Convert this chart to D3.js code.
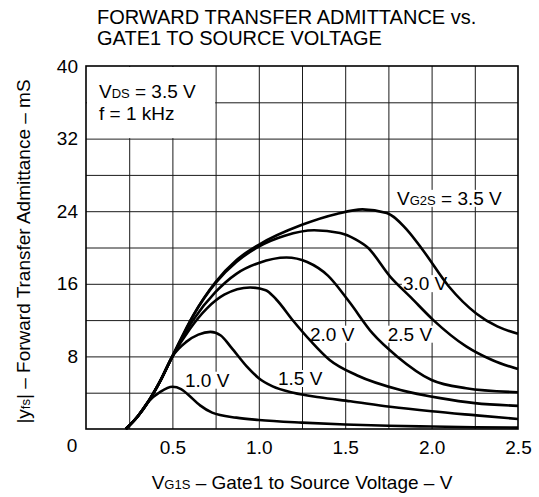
<!DOCTYPE html>
<html>
<head>
<meta charset="utf-8">
<script src="https://cdn.jsdelivr.net/npm/d3@7"></script>
<style>
  body { margin: 0; background: #fff; }
  text { font-family: "Liberation Sans", Arial, sans-serif; fill: #000; }
</style>
</head>
<body>
<div id="chart"></div>
<script>
// ---------------------------DATA---------------------------------
// VG1S (V) vs |yfs| (mS), one list per VG2S value
const vg2s35 = [[0.23,0],[0.3,1.4],[0.36,3.0],[0.43,5.3],[0.5,8.0],[0.62,12.5],[0.75,16.2],[0.87,18.6],[1.0,20.3],[1.25,22.5],[1.45,23.7],[1.6,24.2],[1.74,23.8],[1.86,21.9],[1.95,19.7],[2.1,15.7],[2.26,12.7],[2.38,11.3],[2.5,10.5]];
const vg2s30 = [[0.23,0],[0.3,1.4],[0.36,3.0],[0.43,5.3],[0.5,8.0],[0.62,12.5],[0.75,16.1],[0.87,18.4],[1.0,20.1],[1.15,21.3],[1.32,21.9],[1.47,21.6],[1.56,20.9],[1.63,20.0],[1.76,16.8],[1.88,14.5],[2.01,12.0],[2.2,9.1],[2.35,7.6],[2.5,6.6]];
const vg2s25 = [[0.23,0],[0.3,1.4],[0.36,3.0],[0.43,5.3],[0.5,8.0],[0.62,12.0],[0.75,15.1],[0.87,17.1],[1.0,18.3],[1.16,18.9],[1.28,18.4],[1.4,16.9],[1.52,14.1],[1.66,10.5],[1.8,8.0],[2.0,5.4],[2.2,4.5],[2.5,4.05]];
const vg2s20 = [[0.23,0],[0.3,1.4],[0.36,3.0],[0.43,5.3],[0.5,8.0],[0.6,11.0],[0.7,13.3],[0.8,14.8],[0.95,15.6],[1.04,15.3],[1.1,14.3],[1.2,11.9],[1.3,9.7],[1.41,7.6],[1.57,5.9],[1.82,4.3],[2.05,3.4],[2.25,2.85],[2.5,2.55]];
const vg2s15 = [[0.23,0],[0.3,1.4],[0.36,3.0],[0.43,5.3],[0.5,8.0],[0.58,9.6],[0.65,10.4],[0.72,10.7],[0.78,10.3],[0.84,9.0],[0.93,6.9],[1.0,5.6],[1.08,4.7],[1.2,4.0],[1.35,3.5],[1.53,3.05],[1.76,2.45],[2.0,1.95],[2.26,1.5],[2.5,1.1]];
const vg2s10 = [[0.23,0],[0.3,1.4],[0.36,3.0],[0.43,4.1],[0.5,4.65],[0.55,4.4],[0.59,3.8],[0.66,2.6],[0.73,1.8],[0.87,1.25],[1.0,0.99],[1.25,0.7],[1.5,0.5],[1.75,0.35],[2.0,0.27],[2.25,0.2],[2.5,0.15]];
const series = [vg2s35, vg2s30, vg2s25, vg2s20, vg2s15, vg2s10];

const xTicks = [0.5, 1.0, 1.5, 2.0, 2.5];
const yTicks = [8, 16, 24, 32, 40];
const xGrid = [0.25, 0.5, 0.75, 1.0, 1.25, 1.5, 1.75, 2.0, 2.25];
const yGrid = [4, 8, 12, 16, 20, 24, 28, 32, 36];

// curve labels, anchored in data units: [VG1S, |yfs|, main, sub, rest]
const curveLabels = [
    [1.80, 24.7, "V", "G2S", " = 3.5 V"],
    [1.834, 15.3, "3.0 V", "", ""],
    [1.296, 9.73, "2.0 V", "", ""],
    [1.746, 9.73, "2.5 V", "", ""],
    [1.111, 4.85, "1.5 V", "", ""],
    [0.573, 4.66, "1.0 V", "", ""]
];

// ---------------------------SPACE SETUP---------------------------------
const W = 539, H = 497;
const margin = { top: 66, right: 21, bottom: 68, left: 86 };
const width = W - margin.left - margin.right;
const height = H - margin.top - margin.bottom;

const x = d3.scaleLinear().domain([0, 2.5]).range([0, width]);
const y = d3.scaleLinear().domain([0, 40]).range([height, 0]);

const svg = d3.select("#chart").append("svg")
    .attr("width", W)
    .attr("height", H);

const g = svg.append("g")
    .attr("transform", `translate(${margin.left}, ${margin.top})`);

// ---------------------------GRID---------------------------------
g.append("g")
    .attr("transform", `translate(0, ${height})`)
    .call(d3.axisBottom(x).tickValues(xGrid).tickSize(-height).tickFormat(""))
    .call(a => a.select(".domain").remove())
    .selectAll("line").attr("stroke", "#1a1a1a").attr("stroke-width", 1);

g.append("g")
    .call(d3.axisLeft(y).tickValues(yGrid).tickSize(-width).tickFormat(""))
    .call(a => a.select(".domain").remove())
    .selectAll("line").attr("stroke", "#1a1a1a").attr("stroke-width", 1);

// condition box (covers grid in the top-left corner)
g.append("rect")
    .attr("x", x(0) + 1)
    .attr("y", y(40) + 1)
    .attr("width", x(0.75) - x(0) - 1.5)
    .attr("height", y(32) - y(40) - 1.5)
    .attr("fill", "#fff");

const cond = g.append("g").style("font-size", "19px");
cond.append("text")
    .attr("x", x(0.075)).attr("y", y(36.5))
    .call(t => {
        t.append("tspan").text("V");
        t.append("tspan").style("font-size", "13px").text("DS");
        t.append("tspan").text(" = 3.5 V");
    });
cond.append("text")
    .attr("x", x(0.075)).attr("y", y(34.05))
    .text("f = 1 kHz");

// ---------------------------CURVE LABELS---------------------------------
const labels = g.append("g").style("font-size", "19px");
curveLabels.forEach(d => {
    const t = labels.append("text")
        .attr("x", x(d[0]))
        .attr("y", y(d[1]));
    t.append("tspan").text(d[2]);
    if (d[3]) {
        t.append("tspan").style("font-size", "13px").text(d[3]);
        t.append("tspan").text(d[4]);
    }
    const bb = t.node().getBBox();
    labels.insert("rect", "text")
        .attr("x", bb.x - 1)
        .attr("y", bb.y + 2)
        .attr("width", bb.width + 2)
        .attr("height", bb.height - 4)
        .attr("fill", "#fff");
});

// ---------------------------CURVES---------------------------------
const line = d3.line()
    .x(d => x(d[0]))
    .y(d => y(d[1]))
    .curve(d3.curveMonotoneX);

g.selectAll("path.curve")
    .data(series)
    .enter().append("path")
        .attr("class", "curve")
        .attr("d", line)
        .attr("fill", "none")
        .attr("stroke", "#000")
        .attr("stroke-width", 2.6)
        .attr("stroke-linejoin", "round");

// ---------------------------AXES---------------------------------
g.append("rect")
    .attr("width", width)
    .attr("height", height)
    .attr("fill", "none")
    .attr("stroke", "#000")
    .attr("stroke-width", 1.6);

const xAxis = g.append("g")
    .attr("transform", `translate(0, ${height})`)
    .call(d3.axisBottom(x).tickValues(xTicks).tickSize(0).tickPadding(12).tickFormat(d3.format(".1f")));
xAxis.select(".domain").remove();
xAxis.selectAll("text").style("font-size", "19px").attr("fill", "#000");

const yAxis = g.append("g")
    .call(d3.axisLeft(y).tickValues(yTicks).tickSize(0).tickPadding(8).tickFormat(d3.format("d")));
yAxis.select(".domain").remove();
yAxis.selectAll("text").style("font-size", "19px").attr("fill", "#000");

// shared origin label
g.append("text")
    .attr("x", x(0) - 14)
    .attr("y", height + 23)
    .attr("text-anchor", "middle")
    .style("font-size", "19px")
    .text("0");

// ---------------------------TITLES---------------------------------
const title = svg.append("g").style("font-size", "20px");
title.append("text").attr("x", 97).attr("y", 24).text("FORWARD TRANSFER ADMITTANCE vs.");
title.append("text").attr("x", 97).attr("y", 45).text("GATE1 TO SOURCE VOLTAGE");

svg.append("text")
    .attr("x", margin.left + width / 2)
    .attr("y", 489)
    .attr("text-anchor", "middle")
    .style("font-size", "19px")
    .call(t => {
        t.append("tspan").text("V");
        t.append("tspan").style("font-size", "13px").text("G1S");
        t.append("tspan").text(" – Gate1 to Source Voltage – V");
    });

svg.append("text")
    .attr("transform", `translate(30, ${margin.top + height / 2 + 4}) rotate(-90)`)
    .attr("text-anchor", "middle")
    .style("font-size", "19px")
    .call(t => {
        t.append("tspan").text("|y");
        t.append("tspan").style("font-size", "13px").text("fs");
        t.append("tspan").text("| – Forward Transfer Admittance – mS");
    });
</script>
</body>
</html>
